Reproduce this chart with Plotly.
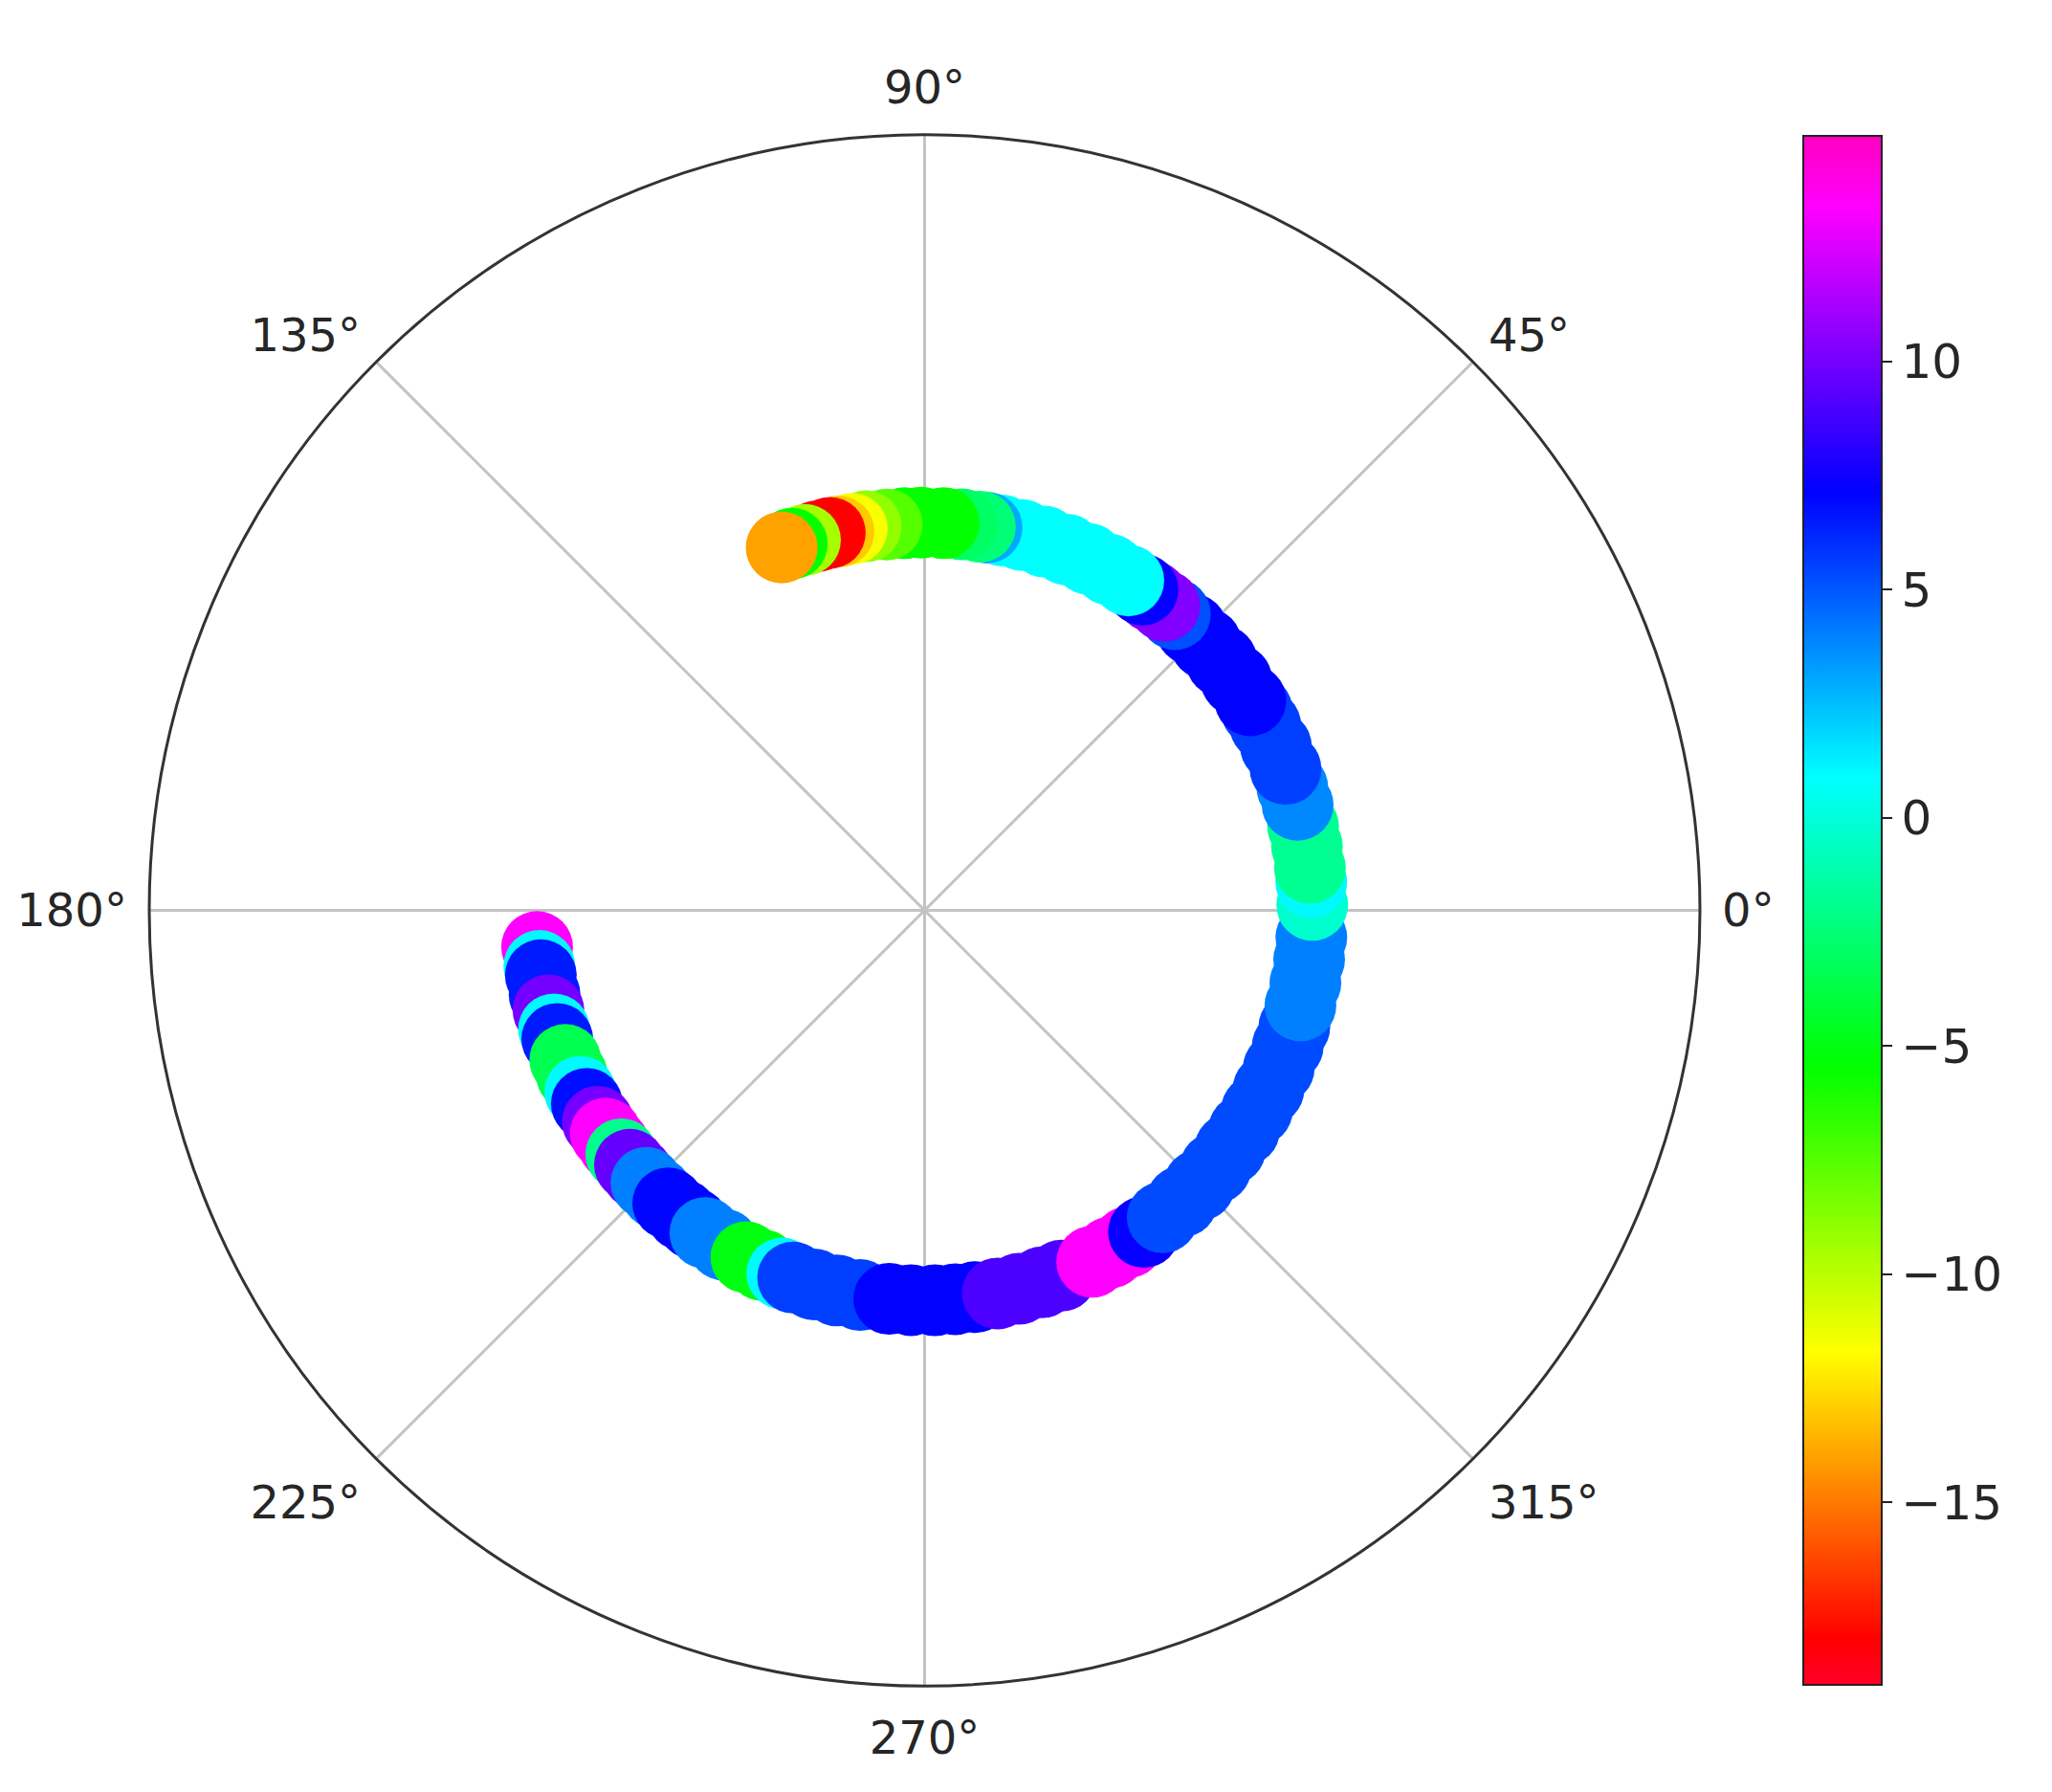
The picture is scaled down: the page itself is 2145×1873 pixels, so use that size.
import plotly.graph_objects as go

# Angle (degrees, counter-clockwise from 0°) of each point, in drawing order
THETA = [
    185.4, 188.2, 189.6, 192.5, 194.9, 197.8, 199.3, 202.6, 205.0, 207.8,
    209.8, 212.9, 215.0, 217.0, 218.8, 220.8, 222.5, 224.4, 226.5, 228.8,
    231.5, 233.5, 235.8, 239.0, 242.8, 245.5, 248.6, 250.3, 253.5, 257.0,
    260.5, 264.8, 268.0, 271.5, 274.5, 277.5, 280.8, 284.0, 287.5, 290.5,
    295.5, 298.5, 301.5, 304.3, 307.8, 311.5, 315.0, 318.5, 322.0, 325.5,
    329.0, 332.5, 336.0, 339.5, 342.5, 345.8, 349.2, 352.7, 356.0, 360.8,
    364.2, 366.3, 369.5, 372.5, 375.8, 378.5, 381.4, 385.0, 388.5, 391.0,
    392.8, 396.5, 400.0, 403.5, 406.5, 409.8, 411.8, 414.0, 415.8, 418.3,
    421.5, 425.0, 428.5, 432.0, 435.5, 438.5, 440.8, 441.8, 444.5, 447.2,
    450.5, 453.0, 455.6, 458.7, 460.8, 462.8, 464.1, 466.0, 467.9, 469.9,
    471.5,
]

# Radius of each point (radial axis 0..1)
RADIUS = [
    0.502, 0.502, 0.502, 0.502, 0.502, 0.502, 0.502, 0.502, 0.502, 0.502,
    0.502, 0.502, 0.502, 0.502, 0.502, 0.502, 0.502, 0.502, 0.502, 0.502,
    0.502, 0.502, 0.503, 0.503, 0.503, 0.503, 0.503, 0.503, 0.503, 0.503,
    0.503, 0.503, 0.503, 0.503, 0.503, 0.503, 0.503, 0.503, 0.503, 0.503,
    0.502, 0.502, 0.502, 0.502, 0.501, 0.501, 0.501, 0.501, 0.500, 0.500,
    0.500, 0.500, 0.500, 0.500, 0.500, 0.500, 0.500, 0.500, 0.500, 0.500,
    0.500, 0.500, 0.500, 0.500, 0.500, 0.500, 0.500, 0.500, 0.500, 0.500,
    0.500, 0.500, 0.500, 0.500, 0.500, 0.500, 0.500, 0.500, 0.500, 0.500,
    0.500, 0.500, 0.500, 0.500, 0.500, 0.500, 0.500, 0.500, 0.500, 0.500,
    0.500, 0.500, 0.500, 0.501, 0.501, 0.501, 0.502, 0.502, 0.502, 0.503,
    0.503,
]

# Colour value of each point
VALUE = [
    13.4, 1.0, 6.5, 6.5, 10.0, 1.0, 6.5, -3.5, -3.5, 1.0,
    6.8, 10.0, 13.4, 13.4, -2.0, 9.6, 9.6, 4.0, 4.0, 7.0,
    7.0, 7.0, 4.0, 4.0, -5.0, -5.0, 1.0, 5.6, 5.6, 5.6,
    5.6, 7.1, 7.1, 7.1, 7.1, 7.1, 9.0, 9.0, 9.0, 9.0,
    13.4, 13.4, 13.4, 7.3, 5.3, 5.3, 5.3, 5.3, 5.3, 5.3,
    5.3, 5.3, 5.3, 5.3, 5.3, 4.0, 4.0, 4.0, 4.0, -0.3,
    1.0, -1.8, -1.8, -1.8, 3.8, 3.8, 5.6, 5.6, 5.6, 5.6,
    7.1, 7.1, 7.1, 7.1, 7.1, 5.2, 10.3, 10.3, 7.2, 0.9,
    0.9, 0.9, 0.9, 0.9, 0.9, 0.9, 3.0, -2.5, -3.0, -5.5,
    -5.5, -5.5, -7.5, -9.0, -11.5, -13.0, -18.0, -18.0, -9.5, -5.5,
    -14.0,
]

ANGLE_TICKS = [0, 45, 90, 135, 180, 225, 270, 315]
ANGLE_LABELS = ["0°", "45°", "90°", "135°", "180°", "225°", "270°", "315°"]
CBAR_TICKS = [-15, -10, -5, 0, 5, 10]
CBAR_LABELS = ["\u221215", "\u221210", "\u22125", "0", "5", "10"]
VMIN, VMAX = -19.0, 14.94

# matplotlib gist_rainbow
GIST_RAINBOW = [
    [0.000, "rgb(255,0,41)"],
    [0.030, "rgb(255,0,0)"],
    [0.215, "rgb(255,255,0)"],
    [0.400, "rgb(0,255,0)"],
    [0.586, "rgb(0,255,255)"],
    [0.770, "rgb(0,0,255)"],
    [0.954, "rgb(255,0,255)"],
    [1.000, "rgb(255,0,191)"],
]

W, H = 2145, 1873
FONT = "DejaVu Sans"
TXT = "#262626"

# polar square (pixels)
PX0, PX1 = 148, 1769
PY0, PY1 = 133, 1754  # top, bottom

fig = go.Figure()
fig.add_trace(go.Scatterpolar(
    r=RADIUS,
    theta=THETA,
    mode="markers",
    marker=dict(
        size=75,
        color=VALUE,
        colorscale=GIST_RAINBOW,
        cmin=VMIN,
        cmax=VMAX,
        line=dict(width=0),
        opacity=1,
        colorbar=dict(
            x=1877 / W, xanchor="left", xpad=0,
            y=1 - (134 + 1753) / 2 / H, yanchor="middle", ypad=0,
            len=(1753 - 134) / H, lenmode="fraction",
            thickness=82,
            outlinewidth=2, outlinecolor="#222",
            tickvals=CBAR_TICKS, ticktext=CBAR_LABELS,
            ticks="outside", ticklen=10, tickwidth=2, tickcolor="#222",
            tickfont=dict(family=FONT, size=50, color=TXT),
        ),
    ),
    showlegend=False,
    hoverinfo="skip",
))

fig.update_layout(
    width=W, height=H,
    margin=dict(l=0, r=0, t=0, b=0),
    paper_bgcolor="white",
    polar=dict(
        domain=dict(x=[PX0 / W, PX1 / W], y=[1 - PY1 / H, 1 - PY0 / H]),
        bgcolor="white",
        radialaxis=dict(range=[0, 1], visible=False),
        angularaxis=dict(
            rotation=0, direction="counterclockwise",
            tickmode="array", tickvals=ANGLE_TICKS, ticktext=ANGLE_LABELS,
            showgrid=True, gridcolor="rgb(195,195,195)", gridwidth=3,
            showline=True, linecolor="#333", linewidth=3,
            ticks="outside", ticklen=12, tickcolor="rgba(0,0,0,0)",
            tickfont=dict(family=FONT, size=48, color=TXT),
        ),
    ),
)

fig.write_html("out.html")
